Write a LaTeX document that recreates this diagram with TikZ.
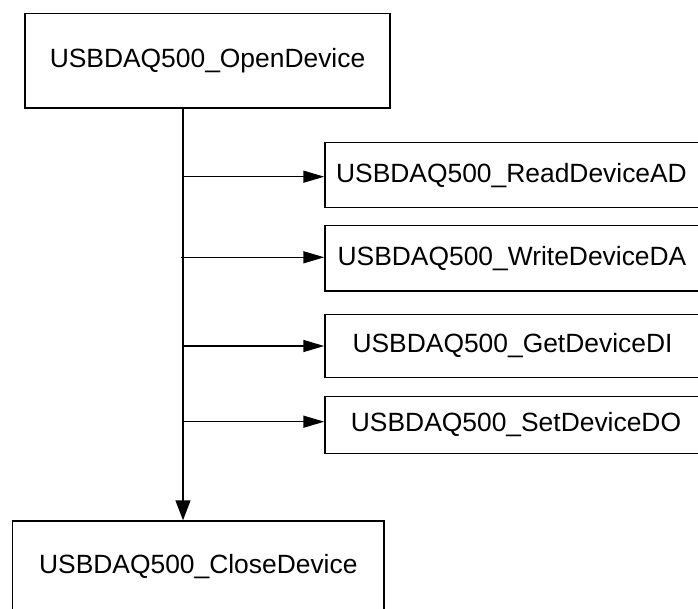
\documentclass[tikz,border=0pt]{standalone}
\usepackage{fontspec}
\setmainfont{Liberation Sans}
\usetikzlibrary{arrows.meta}
\begin{document}
\begin{tikzpicture}[x=1pt,y=-1pt,
  fnbox/.style={draw=black,line width=1.5pt,rectangle,inner sep=0pt,
    font=\fontsize{26.4}{30}\selectfont,text=black},
  iobox/.style={fnbox,minimum width=415pt},
  link/.style={draw=black,line width=1.5pt},
  htip/.style={-{Triangle[length=21pt,width=12pt]}},
  vtip/.style={-{Triangle[length=20pt,width=15pt]}}]
\useasboundingbox (0,0) rectangle (698,609);
\clip (0,0) rectangle (698,609);
\fill[white] (0,0) rectangle (698,609);

% main sequence boxes
\node[fnbox,minimum width=365pt,minimum height=94.5pt] (open) at (207.5,60.8) {USBDAQ500\_OpenDevice};
\node[fnbox,minimum width=371.3pt,minimum height=92pt] (close) at (198.3,567) {USBDAQ500\_CloseDevice};

% I/O function boxes (they run on past the right border)
\node[iobox,minimum height=65pt] (read) at (532.5,175.2) {USBDAQ500\_ReadDeviceAD\hspace*{42pt}};
\node[iobox,minimum height=65.3pt] (write) at (532.5,258.3) {USBDAQ500\_WriteDeviceDA\hspace*{41pt}};
\node[iobox,minimum height=63.4pt] (get) at (532.5,346) {USBDAQ500\_GetDeviceDI\hspace*{40pt}};
\node[iobox,minimum height=56.6pt] (set) at (532.5,425) {USBDAQ500\_SetDeviceDO\hspace*{33pt}};

% trunk
\coordinate (trunk) at (183,0);
\draw[link,vtip] (open.south -| trunk) -- (close.north -| trunk);

% branches
\coordinate (jread) at (183,176.7);
\coordinate (jwrite) at (181,257.3);
\coordinate (jget) at (183,346);
\coordinate (jset) at (183,421.7);
\draw[link,htip] (jread) -- (jread -| read.west);
\draw[link,htip] (jwrite) -- (jwrite -| write.west);
\draw[link,htip] (jget) -- (jget -| get.west);
\draw[link,htip] (jset) -- (jset -| set.west);
\end{tikzpicture}
\end{document}
